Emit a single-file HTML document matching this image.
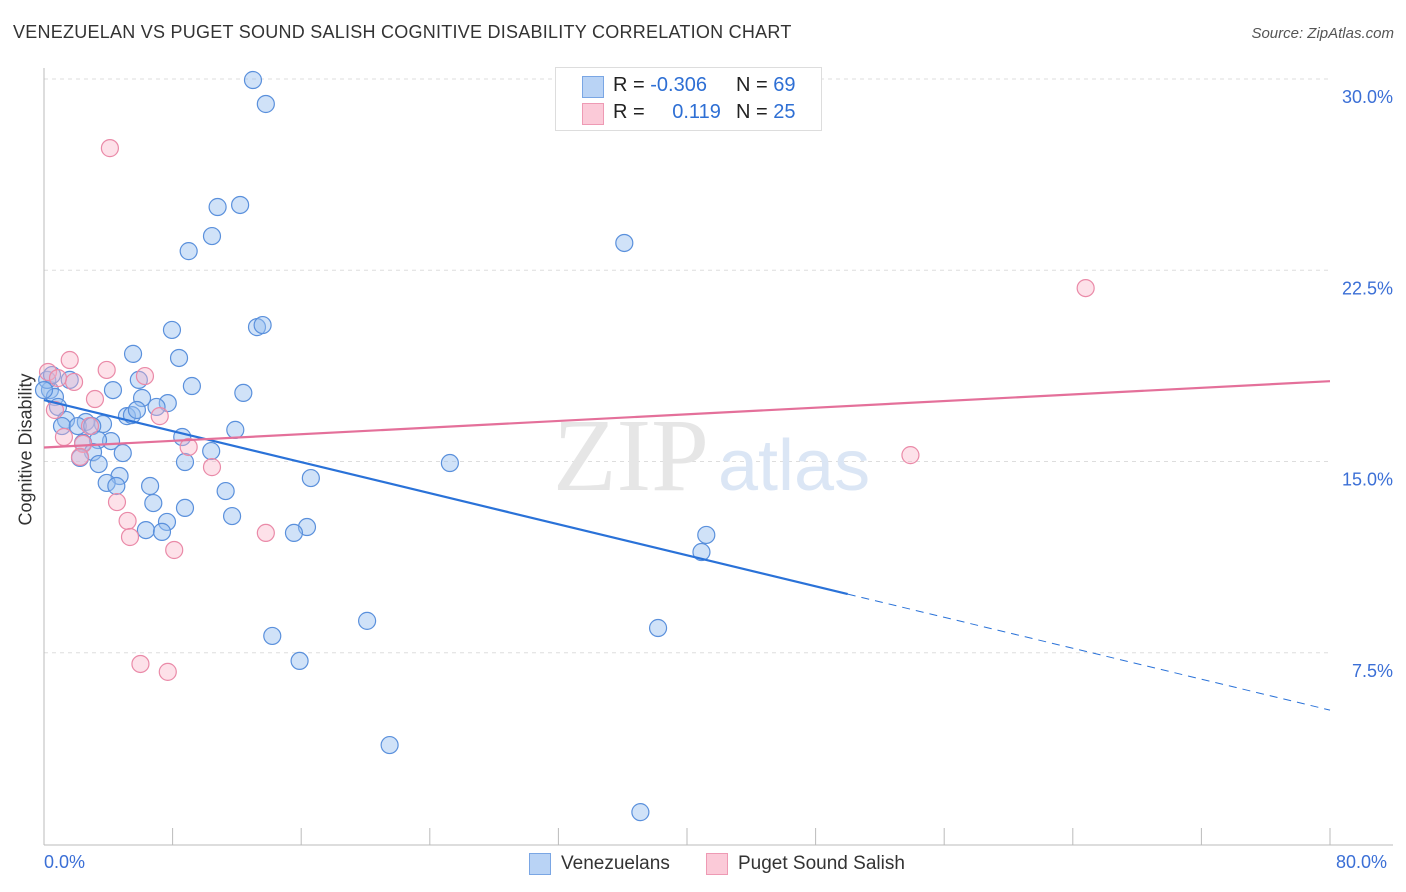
<!DOCTYPE html>
<html><head><meta charset="utf-8">
<style>
body{margin:0;background:#fff;font-family:"Liberation Sans",sans-serif;}
#wrap{position:relative;width:1406px;height:892px;overflow:hidden;}
.t{position:absolute;white-space:nowrap;}
</style></head>
<body>
<div id="wrap">
<div class="t" style="left:13px;top:22px;font-size:18px;color:#333;letter-spacing:0.25px">VENEZUELAN VS PUGET SOUND SALISH COGNITIVE DISABILITY CORRELATION CHART</div>
<div class="t" style="right:12px;top:25px;font-size:15px;color:#555;font-style:italic">Source: ZipAtlas.com</div>
<svg id="svg" width="1406" height="892" style="position:absolute;left:0;top:0"></svg>
</div>
<script>
const blueX=[13.0,13.8,10.8,12.2,10.45,9.0,36.1,7.96,13.25,13.6,5.54,8.4,4.29,5.9,9.2,12.4,0.37,0.68,0.87,6.1,7.7,7.0,5.16,5.47,5.78,1.37,2.6,3.67,1.12,2.1,3.0,11.9,8.6,4.17,3.36,2.43,10.4,4.9,3.05,2.24,3.4,8.77,25.25,16.6,4.7,3.9,4.5,6.6,11.3,6.8,8.77,11.7,7.65,6.34,7.34,16.36,15.55,41.2,40.9,20.1,38.2,14.2,15.9,21.5,37.1,0.2,0.5,0.0,1.6];
const blueY=[29.96,29.02,24.98,25.06,23.84,23.25,23.57,20.16,20.27,20.35,19.22,19.06,17.8,18.2,17.96,17.69,17.8,17.53,17.14,17.49,17.29,17.14,16.78,16.82,17.02,16.63,16.55,16.47,16.39,16.39,16.39,16.24,15.96,15.8,15.84,15.73,15.41,15.33,15.37,15.14,14.9,14.98,14.94,14.35,14.43,14.16,14.04,14.04,13.84,13.37,13.18,12.86,12.63,12.31,12.24,12.43,12.2,12.12,11.45,8.75,8.47,8.16,7.18,3.88,1.25,18.2,18.39,17.8,18.2];
const pinkX=[4.1,64.8,1.6,3.9,6.28,1.87,0.68,3.17,1.24,2.43,2.24,2.86,7.2,9.0,10.45,4.54,5.2,5.35,13.8,8.1,6.0,7.7,53.9,0.25,0.87];
const pinkY=[27.29,21.8,18.98,18.59,18.35,18.12,17.02,17.45,15.96,15.69,15.18,16.39,16.78,15.57,14.78,13.41,12.67,12.04,12.2,11.53,7.06,6.75,15.25,18.51,18.27];
const blueTrend=[[0,17.41],[50,9.8],[80,5.25]];
const pinkTrend=[[0,15.55],[80,18.15]];
const yTicks=[30,22.5,15,7.5];
const yTickLabels=["30.0%","22.5%","15.0%","7.5%"];
const xTicks=[0,8,16,24,32,40,48,56,64,72,80];
const X=v=>44+v/80*1286, Y=v=>79+(30-v)*25.5;
const svg=document.getElementById('svg');const NS='http://www.w3.org/2000/svg';
function mk(tag,attrs,name){const e=document.createElementNS(NS,tag);for(const k in attrs)e.setAttribute(k,attrs[k]);


svg.appendChild(e);return e;}
yTicks.forEach((v,i)=>{mk('line',{x1:44,x2:1330,y1:Y(v),y2:Y(v),stroke:'#ddd','stroke-dasharray':'4,4'},'gridline');
const t=mk('text',{x:1393,y:Y(v)+24,'text-anchor':'end','font-size':18,fill:'#3b6fd6','font-family':'Liberation Sans'},'y-tick-label');t.textContent=yTickLabels[i];});
mk('line',{x1:44,x2:44,y1:68,y2:845,stroke:'#bbb'},'y-axis');
mk('line',{x1:44,x2:1393,y1:845,y2:845,stroke:'#bbb'},'x-axis');
xTicks.forEach(v=>mk('line',{x1:X(v),x2:X(v),y1:828,y2:845,stroke:'#bbb'},'x-tick'));
let w=mk('text',{x:553,y:490,'font-size':104,fill:'#e6e6e6','font-family':'Liberation Serif'},'watermark-zip');w.textContent='ZIP';
w=mk('text',{x:718,y:490,'font-size':72,fill:'#dbe6f5','font-family':'Liberation Sans'},'watermark-atlas');w.textContent='atlas';
blueX.forEach((v,i)=>mk('circle',{cx:X(v),cy:Y(blueY[i]),r:8.5,fill:'rgba(150,190,240,0.45)',stroke:'#5a90dc','stroke-width':1.2},'venezuelan-point'));
pinkX.forEach((v,i)=>mk('circle',{cx:X(v),cy:Y(pinkY[i]),r:8.5,fill:'rgba(250,180,200,0.4)',stroke:'#ea8aa8','stroke-width':1.2},'puget-sound-salish-point'));
mk('line',{x1:X(blueTrend[0][0]),y1:Y(blueTrend[0][1]),x2:X(blueTrend[1][0]),y2:Y(blueTrend[1][1]),stroke:'#2a72d8','stroke-width':2.2},'venezuelan-trend-line');
mk('line',{x1:X(blueTrend[1][0]),y1:Y(blueTrend[1][1]),x2:X(blueTrend[2][0]),y2:Y(blueTrend[2][1]),stroke:'#2a72d8','stroke-width':1,'stroke-dasharray':'8,6'},'venezuelan-trend-extension');
mk('line',{x1:X(pinkTrend[0][0]),y1:Y(pinkTrend[0][1]),x2:X(pinkTrend[1][0]),y2:Y(pinkTrend[1][1]),stroke:'#e4709a','stroke-width':2.2},'puget-trend-line');
</script>
<div class="t" style="left:-44px;top:445px;font-size:18px;color:#333;transform:rotate(-90deg);width:140px;text-align:center">Cognitive Disability</div>
<div class="t" style="left:44px;top:852px;font-size:18px;color:#3b6fd6">0.0%</div>
<div class="t" style="left:1336px;top:852px;font-size:18px;color:#3b6fd6">80.0%</div>
<div style="position:absolute;left:555px;top:67px;width:265px;height:62px;border:1px solid #ddd;background:#fff;font-size:20px;color:#222">
 <div style="position:absolute;left:26px;top:8px;width:20px;height:20px;background:#b9d3f5;border:1px solid #7aa6e4"></div>
 <div class="t" style="left:57px;top:6px">R = <span style="color:#2e6fd4">-0.306</span></div>
 <div class="t" style="left:180px;top:6px">N = <span style="color:#2e6fd4">69</span></div>
 <div style="position:absolute;left:26px;top:35px;width:20px;height:20px;background:#fbcad8;border:1px solid #ee9ab4"></div>
 <div class="t" style="left:57px;top:33px">R = <span style="color:#2e6fd4;margin-left:22px">0.119</span></div>
 <div class="t" style="left:180px;top:33px">N = <span style="color:#2e6fd4">25</span></div>
</div>
<div style="position:absolute;left:529px;top:853px;height:22px;font-size:19px;color:#333">
 <div style="position:absolute;left:0;top:0;width:20px;height:20px;background:#b9d3f5;border:1px solid #7aa6e4"></div>
 <div class="t" style="left:32px;top:0">Venezuelans</div></div>
<div style="position:absolute;left:706px;top:853px;height:22px;font-size:19px;color:#333">
 <div style="position:absolute;left:0;top:0;width:20px;height:20px;background:#fbcad8;border:1px solid #ee9ab4"></div>
 <div class="t" style="left:32px;top:0">Puget Sound Salish</div></div>
</body></html>
